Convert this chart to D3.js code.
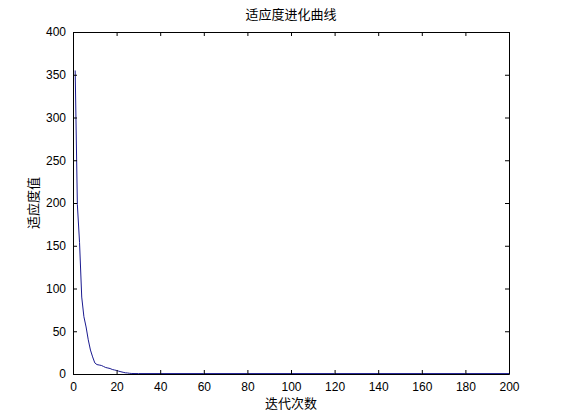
<!DOCTYPE html>
<html>
<head>
<meta charset="utf-8">
<script src="https://cdn.jsdelivr.net/npm/d3@7"></script>
<style>
  body { margin: 0; background: #fff; }
  svg { display: block; font-family: Arial, "Liberation Sans", sans-serif; }
  .tick text { font-size: 12px; fill: #000; }
  .lbl { font-family: "Noto Sans CJK SC", sans-serif; font-size: 13px; fill: #000; }
</style>
</head>
<body>
<svg id="chart" width="561" height="420"></svg>
<script>
// constants
const width = 561;
const height = 420;
const margin = { top: 32, left: 73, right: 52, bottom: 46 };

// data
const iterations = [1, 2, 3, 4, 5, 6, 7, 8, 9, 10, 11, 12, 13, 14, 15, 16, 17, 18, 19, 20,
  21, 22, 23, 24, 25, 26, 27, 30, 40, 60, 80, 100, 120, 140, 160, 180, 200];
const fitness = [355, 198, 154, 90, 67, 55, 40, 28, 20, 13, 11, 10.5, 10, 8.8, 7.6, 7, 6.4, 5.3, 4.7, 4.1,
  3.3, 2.6, 2, 1.4, 1.2, 0.8, 0.6, 0.5, 0.5, 0.5, 0.5, 0.5, 0.5, 0.5, 0.5, 0.5, 0.5];
const xTicks = [0, 20, 40, 60, 80, 100, 120, 140, 160, 180, 200];
const yTicks = [0, 50, 100, 150, 200, 250, 300, 350, 400];

const titleText = "适应度进化曲线";
const xLabel = "迭代次数";
const yLabel = "适应度值";

var svg = d3.select("#chart");

var xScale = d3.scaleLinear()
  .domain([0, 200])
  .range([margin.left, width - margin.right]);

var yScale = d3.scaleLinear()
  .domain([0, 400])
  .range([height - margin.bottom, margin.top]);

var points = iterations.map((d, i) => [d, fitness[i]]);

var line = d3.line()
  .x(d => xScale(d[0]))
  .y(d => yScale(d[1]));

svg.append("path")
  .datum(points)
  .attr("fill", "none")
  .attr("stroke", "#1a1a90")
  .attr("stroke-width", 1)
  .attr("d", line);

// axes, ticks pointing inward like matlab
const tl = 4;
svg.append("g")
  .attr("transform", "translate(0," + (height - margin.bottom) + ")")
  .call(d3.axisBottom(xScale).tickValues(xTicks).tickSizeInner(-tl).tickSizeOuter(0).tickPadding(8));
svg.append("g")
  .attr("transform", "translate(0," + margin.top + ")")
  .call(d3.axisTop(xScale).tickValues(xTicks).tickSizeInner(-tl).tickSizeOuter(0).tickFormat(""));
svg.append("g")
  .attr("transform", "translate(" + margin.left + ",0)")
  .call(d3.axisLeft(yScale).tickValues(yTicks).tickSizeInner(-tl).tickSizeOuter(0).tickPadding(7));
svg.append("g")
  .attr("transform", "translate(" + (width - margin.right) + ",0)")
  .call(d3.axisRight(yScale).tickValues(yTicks).tickSizeInner(-tl).tickSizeOuter(0).tickFormat(""));

svg.selectAll(".domain").attr("stroke", "#000");
svg.selectAll(".tick line").attr("stroke", "#000");

svg.append("text")
  .attr("class", "lbl")
  .attr("x", (margin.left + width - margin.right) / 2)
  .attr("y", 19)
  .attr("text-anchor", "middle")
  .text(titleText);

svg.append("text")
  .attr("class", "lbl")
  .attr("x", (margin.left + width - margin.right) / 2)
  .attr("y", 408)
  .attr("text-anchor", "middle")
  .text(xLabel);

svg.append("text")
  .attr("class", "lbl")
  .attr("transform", "translate(38," + ((margin.top + height - margin.bottom) / 2) + ") rotate(-90)")
  .attr("text-anchor", "middle")
  .text(yLabel);
</script>
</body>
</html>
